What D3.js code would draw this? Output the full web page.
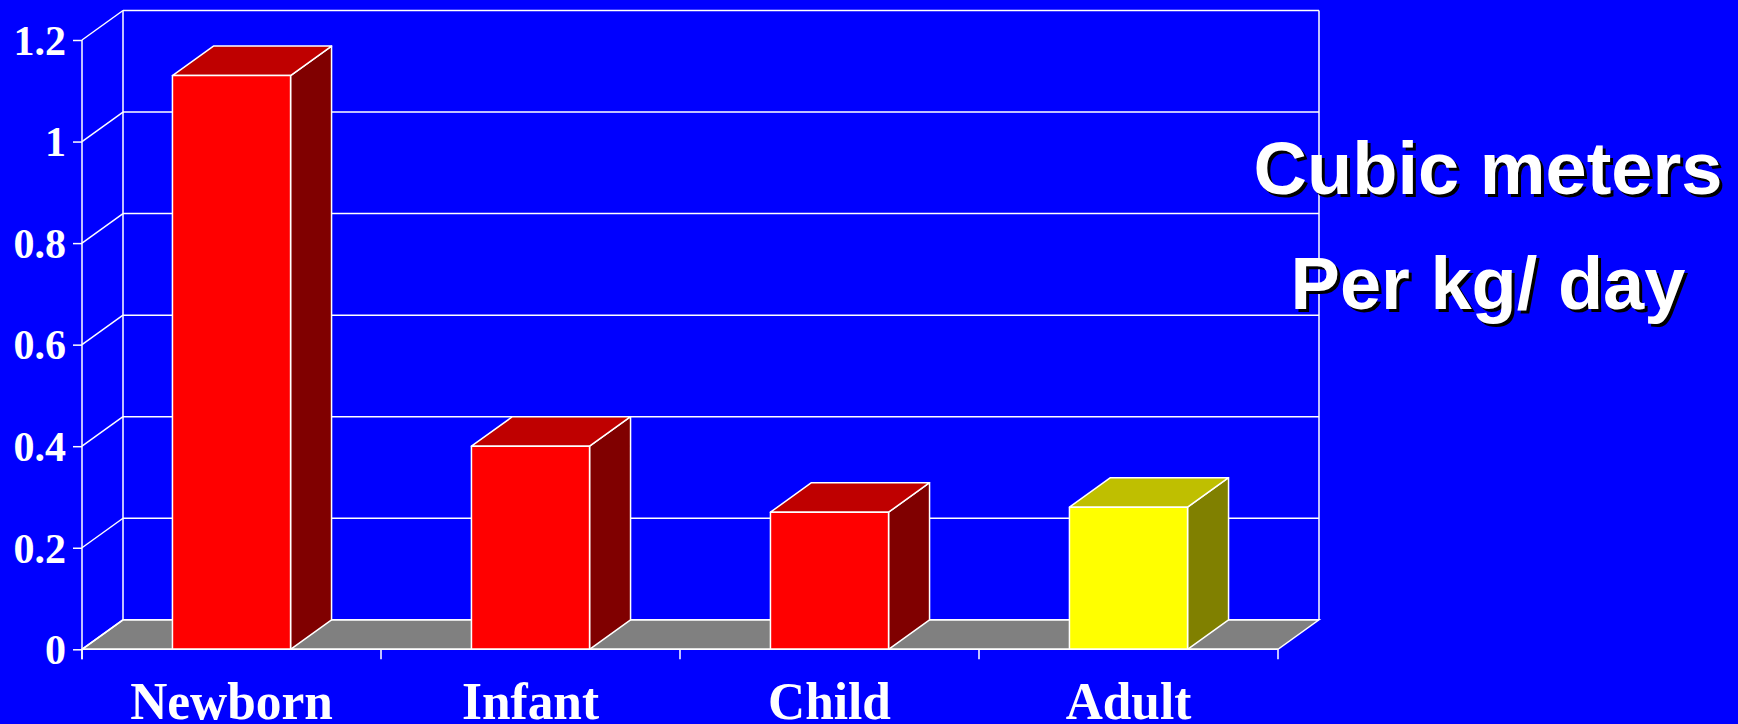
<!DOCTYPE html>
<html>
<head>
<meta charset="utf-8">
<script src="https://cdn.jsdelivr.net/npm/d3@7"></script>
<style>
  html, body { margin: 0; padding: 0; background: #0000ff; overflow: hidden; }
  svg { display: block; }
</style>
</head>
<body>
<svg id="chart" width="1738" height="724"></svg>
<script>
// Air volume per body weight by age group
const categories = ["Newborn", "Infant", "Child", "Adult"];
const values = [1.13, 0.40, 0.27, 0.28];
const frontColors = ["#ff0000", "#ff0000", "#ff0000", "#ffff00"];
const topColors = ["#bf0000", "#bf0000", "#bf0000", "#bfbf00"];
const sideColors = ["#800000", "#800000", "#800000", "#808000"];
const yTicks = [0, 0.2, 0.4, 0.6, 0.8, 1, 1.2];
const yTickLabels = ["0", "0.2", "0.4", "0.6", "0.8", "1", "1.2"];
const titleLines = ["Cubic meters", "Per kg/ day"];

const svg = d3.select("#chart");
const W = 1738, H = 724;

// front plane of the 3-D box and its depth offset
const plotLeft = 82, plotRight = 1278, plotBottom = 649.3, plotTop = 40;
const DX = 41, DY = -29.5;

const y = d3.scaleLinear().domain([0, 1.2]).range([plotBottom, plotTop]);
const x = d3.scaleBand().domain(categories).range([plotLeft, plotRight])
  .paddingInner(0.605).paddingOuter(0.3025);

const pts = a => a.map(p => p.join(",")).join(" ");

svg.append("rect").attr("width", W).attr("height", H).attr("fill", "#0000ff");

// floor
svg.append("polygon")
  .attr("points", pts([[plotLeft, y(0)], [plotRight, y(0)], [plotRight + DX, y(0) + DY], [plotLeft + DX, y(0) + DY]]))
  .attr("fill", "#808080").attr("stroke", "#ffffff").attr("stroke-width", 1.5);

const grid = svg.append("g").attr("stroke", "#ffffff").attr("stroke-width", 1.5).attr("fill", "none");

// back wall gridlines and left wall diagonals
yTicks.forEach(t => {
  grid.append("line")
    .attr("x1", plotLeft + DX).attr("y1", y(t) + DY)
    .attr("x2", plotRight + DX).attr("y2", y(t) + DY);
  grid.append("line")
    .attr("x1", plotLeft).attr("y1", y(t))
    .attr("x2", plotLeft + DX).attr("y2", y(t) + DY);
});
// back wall vertical edges
grid.append("line").attr("x1", plotLeft + DX).attr("y1", y(1.2) + DY).attr("x2", plotLeft + DX).attr("y2", y(0) + DY);
grid.append("line").attr("x1", plotRight + DX).attr("y1", y(1.2) + DY).attr("x2", plotRight + DX).attr("y2", y(0) + DY);

// bars as 3-D blocks
const bars = svg.append("g").attr("stroke", "#ffffff").attr("stroke-width", 1.5).attr("stroke-linejoin", "round");
categories.forEach((c, i) => {
  const x0 = x(c), x1 = x(c) + x.bandwidth();
  const yt = y(values[i]), yb = y(0);
  bars.append("polygon")
    .attr("points", pts([[x1, yt], [x1, yb], [x1 + DX, yb + DY], [x1 + DX, yt + DY]]))
    .attr("fill", sideColors[i]);
  bars.append("polygon")
    .attr("points", pts([[x0, yt], [x1, yt], [x1 + DX, yt + DY], [x0 + DX, yt + DY]]))
    .attr("fill", topColors[i]);
  bars.append("rect")
    .attr("x", x0).attr("y", yt).attr("width", x1 - x0).attr("height", yb - yt)
    .attr("fill", frontColors[i]);
});

// value axis on the front plane
const yAxis = svg.append("g").attr("transform", `translate(${plotLeft},0)`)
  .call(d3.axisLeft(y).tickValues(yTicks).tickFormat((d, i) => yTickLabels[i]).tickSize(9).tickPadding(7));
yAxis.select(".domain").attr("stroke", "#ffffff").attr("stroke-width", 1.5).attr("d", `M0,${y(1.2)}V${y(0) + 10}`);
yAxis.selectAll(".tick line").attr("stroke", "#ffffff").attr("stroke-width", 1.5);
yAxis.selectAll(".tick text")
  .attr("fill", "#ffffff")
  .attr("font-family", "'Liberation Serif', 'Times New Roman', serif")
  .attr("font-weight", "bold")
  .attr("font-size", 42)
  .attr("dy", "0.34em");

// category axis along the front floor edge
svg.append("line").attr("x1", plotLeft).attr("x2", plotRight).attr("y1", y(0)).attr("y2", y(0))
  .attr("stroke", "#ffffff").attr("stroke-width", 1.5);
const edges = [plotLeft].concat(categories.map(c => x(c) + x.bandwidth() + (x.step() - x.bandwidth()) / 2));
svg.append("g").selectAll("line").data(edges).join("line")
  .attr("x1", d => d).attr("x2", d => d)
  .attr("y1", y(0)).attr("y2", y(0) + 10)
  .attr("stroke", "#ffffff").attr("stroke-width", 1.5);

svg.append("g").selectAll("text").data(categories).join("text")
  .attr("transform", d => `translate(${x(d) + x.bandwidth() / 2},719) scale(0.97,1)`)
  .attr("text-anchor", "middle")
  .attr("fill", "#ffffff")
  .attr("font-family", "'Liberation Serif', 'Times New Roman', serif")
  .attr("font-weight", "bold")
  .attr("font-size", 53)
  .text(d => d);

// title with drop shadow
const titleX = 1488, titleY = [194, 309];
const title = svg.append("g")
  .attr("font-family", "'Liberation Sans', Arial, sans-serif")
  .attr("font-weight", "bold")
  .attr("font-size", 74)
  .attr("text-anchor", "middle");
titleLines.forEach((t, i) => {
  title.append("text")
    .attr("x", titleX + 3).attr("y", titleY[i] + 3)
    .attr("fill", "#000000").text(t);
  title.append("text")
    .attr("x", titleX).attr("y", titleY[i])
    .attr("fill", "#ffffff").text(t);
});
</script>
</body>
</html>
